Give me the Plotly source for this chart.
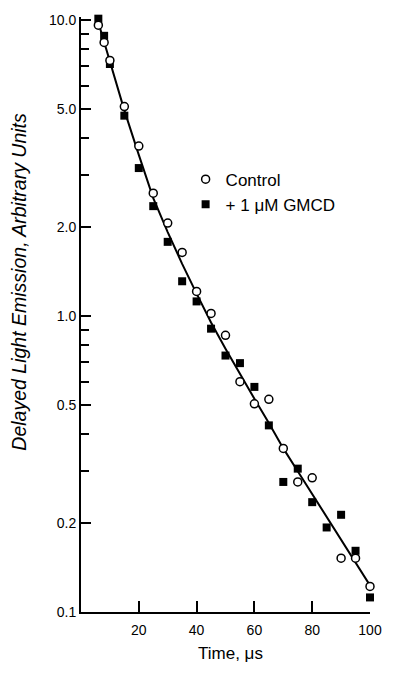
import plotly.graph_objects as go

# Control (open circles)
ctrl_t = [6, 8, 10, 15, 20, 25, 30, 35, 40, 45, 50, 55, 60, 65, 70, 75, 80, 90, 95, 100]
ctrl_v = [9.6, 8.4, 7.3, 5.1, 3.75, 2.6, 2.06, 1.64, 1.21, 1.02, 0.86, 0.6, 0.505, 0.523,
          0.357, 0.275, 0.284, 0.152, 0.152, 0.122]

# + 1 uM GMCD (filled squares)
gmcd_t = [6, 8, 10, 15, 20, 25, 30, 35, 40, 45, 50, 55, 60, 65, 70, 75, 80, 85, 90, 95, 100]
gmcd_v = [10.1, 8.84, 7.1, 4.75, 3.16, 2.35, 1.78, 1.31, 1.12, 0.906, 0.735, 0.693, 0.576,
          0.427, 0.275, 0.305, 0.235, 0.193, 0.213, 0.161, 0.112]

# fitted curve
fit_t = [5.5, 10, 15, 20, 25, 30, 35, 40, 45, 50, 55, 60, 65, 70, 75, 80, 85, 90, 95, 100]
fit_v = [10.2, 7.25, 4.95, 3.5, 2.5, 1.92, 1.5, 1.19, 0.95, 0.775, 0.636, 0.525, 0.435,
         0.357, 0.299, 0.25, 0.21, 0.176, 0.147, 0.123]

y_tickvals = [0.1, 0.2, 0.5, 1, 2, 5, 10]
y_ticktext = ["0.1", "0.2", "0.5", "1.0", "2.0", "5.0", "10.0"]
y_minor = [0.3, 0.4, 0.6, 0.7, 0.8, 0.9, 3, 4, 6, 7, 8, 9]
x_tickvals = [20, 40, 60, 80, 100]

FONT = "Liberation Sans, Arial, sans-serif"

fig = go.Figure()
fig.add_trace(go.Scatter(x=fit_t, y=fit_v, mode="lines", line=dict(color="black", width=2),
                         showlegend=False, hoverinfo="skip"))
fig.add_trace(go.Scatter(x=gmcd_t, y=gmcd_v, mode="markers", name="+ 1 \u03bcM GMCD",
                         legendrank=2, legendgroup="b",
                         marker=dict(symbol="square", size=8, color="black"),
                         cliponaxis=False))
fig.add_trace(go.Scatter(x=ctrl_t, y=ctrl_v, mode="markers", name="Control",
                         legendrank=1, legendgroup="a",
                         marker=dict(symbol="circle", size=8, color="white",
                                     line=dict(color="black", width=1.5)),
                         cliponaxis=False))

fig.update_layout(
    width=394, height=675,
    margin=dict(l=81, r=21, t=16, b=63),
    paper_bgcolor="white", plot_bgcolor="white",
    font=dict(family=FONT, color="black", size=14),
    showlegend=True,
    legend=dict(x=0.362, y=0.757, xanchor="left", yanchor="top",
                bgcolor="rgba(0,0,0,0)", font=dict(size=17, family=FONT),
                traceorder="grouped", tracegroupgap=0),
    xaxis=dict(range=[0, 100], showgrid=False, zeroline=False, showline=True,
               linecolor="black", linewidth=2, ticks="inside", ticklen=11, tickwidth=1.5,
               tickcolor="black", tickvals=x_tickvals, tickfont=dict(size=14),
               ticklabelstandoff=4),
    yaxis=dict(type="log", range=[-1, 1.01], showgrid=False, zeroline=False, showline=True,
               linecolor="black", linewidth=2, ticks="inside", ticklen=10, tickwidth=1.5,
               tickcolor="black", tickvals=y_tickvals, ticktext=y_ticktext,
               tickfont=dict(size=14),
               minor=dict(tickvals=y_minor, ticks="inside", ticklen=8, tickwidth=1.5,
                          tickcolor="black", showgrid=False)),
    annotations=[
        dict(text="Time, \u03bcs", xref="paper", yref="paper", x=0.517, y=-0.069,
             xanchor="center", yanchor="middle", showarrow=False,
             font=dict(size=17, family=FONT)),
        dict(text="<i>Delayed Light Emission, Arbitrary Units</i>", xref="paper",
             yref="paper", x=-0.215, y=0.555, xanchor="center", yanchor="middle",
             textangle=-90, showarrow=False, font=dict(size=19.5, family=FONT)),
    ],
)

fig.write_html("out.html")
